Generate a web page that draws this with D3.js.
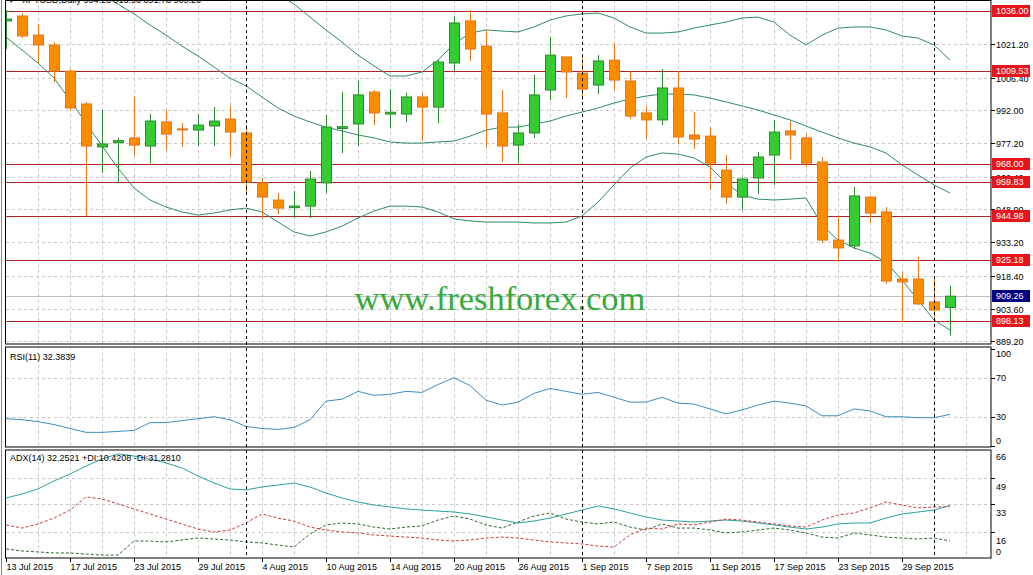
<!DOCTYPE html>
<meta charset="utf-8">
<style>
body{margin:0;background:#fff;}
text{font-family:"Liberation Sans",Arial,sans-serif;font-size:9px;}
</style>
<body>
<div id="chart"></div>
<script src="https://cdn.jsdelivr.net/npm/d3@7"></script>
<script>
// daily bars 13 Jul 2015 .. 2 Oct 2015
var opens  = [1031.6,1033.8,1025.3,1020.9,1009.3,994.7,975.6,977.5,979.6,976.0,986.7,983.6,983.1,984.9,988.0,981.8,959.6,952.0,948.6,949.3,959.6,983.8,985.8,1000.0,990.2,990.2,997.8,993.3,1012.9,1031.6,1020.4,990.7,976.4,981.8,1000.9,1015.6,1008.4,1003.1,1014.2,1004.9,990.7,987.6,1001.8,980.9,980.4,965.3,953.3,961.8,972.0,982.7,979.6,968.9,934.2,931.6,953.3,946.7,916.9,916.9,906.7,904.23];
var highs  = [1036.4,1035.1,1030.2,1022.2,1010.2,995.6,992.0,979.6,997.8,990.2,992.0,986.2,990.2,993.3,993.8,985.3,961.8,955.1,956.0,964.9,989.8,1000.0,1004.9,1000.9,1001.3,999.6,999.6,1014.2,1033.8,1036.4,1027.6,1000.9,985.8,1007.6,1024.4,1015.6,1015.6,1016.4,1021.8,1009.3,993.8,1010.2,1009.3,991.1,984.4,972.0,962.2,973.3,987.6,987.0,981.3,971.1,945.3,957.8,953.8,948.9,920.0,926.7,916.9,913.93];
var lows   = [1019.1,1024.0,1012.9,1004.4,991.6,944.9,964.0,959.6,971.6,968.4,974.2,975.6,976.0,976.0,971.1,955.1,943.6,945.8,944.0,944.0,955.1,972.9,976.0,985.3,984.0,986.7,978.2,986.2,1009.3,1013.8,975.1,968.9,968.4,979.6,996.4,997.3,996.4,999.1,1000.9,988.0,979.1,985.3,976.9,974.7,956.4,950.2,947.6,954.7,958.7,970.2,966.7,932.9,924.4,930.2,941.8,914.7,897.8,905.3,899.1,891.73];
var closes = [1032.4,1024.9,1020.9,1009.3,992.9,976.0,976.9,978.4,976.4,987.1,981.3,983.3,985.3,987.1,982.2,960.0,953.3,948.4,949.3,961.3,984.4,984.6,998.7,990.7,991.0,997.8,993.3,1013.3,1030.7,1019.1,990.2,976.0,981.8,998.7,1016.4,1008.9,1001.3,1013.8,1005.3,989.3,987.6,1001.8,980.0,979.1,968.4,953.3,961.3,971.1,982.2,980.9,968.4,934.2,930.7,953.8,946.2,916.0,915.6,905.8,903.1,909.26];

// bollinger bands
var bbUpper = [1119.6,1116.5,1113.3,1109.4,1109.4,1109.8,1110.2,1112.0,1112.1,1107.6,1101.7,1094.1,1086.7,1076.0,1064.8,1057.0,1048.9,1043.6,1039.1,1033.3,1027.6,1022.2,1016.4,1011.6,1007.1,1007.1,1008.9,1014.2,1021.3,1026.2,1027.6,1027.1,1026.7,1028.9,1032.0,1033.8,1034.7,1035.1,1032.9,1028.9,1026.2,1026.2,1026.7,1028.4,1029.8,1031.1,1032.9,1033.3,1031.1,1025.3,1020.9,1025.3,1028.4,1028.9,1028.9,1027.6,1024.9,1024.0,1020.9,1014.2];
var bbMiddle = [1072.0,1067.6,1063.1,1057.8,1052.9,1048.0,1043.1,1039.1,1034.7,1029.8,1025.3,1020.4,1016.0,1011.1,1006.2,1002.7,997.8,992.9,989.3,986.7,984.4,982.7,980.9,979.6,977.8,977.3,977.3,977.8,978.2,980.4,983.1,984.4,984.4,985.8,987.1,989.3,991.1,992.9,995.1,996.9,998.2,999.1,999.1,998.7,997.3,995.6,993.8,992.0,989.8,987.6,984.9,982.2,979.6,977.3,975.6,972.9,967.6,963.1,958.7,955.1];
var bbLower = [1024.4,1018.7,1012.9,1006.2,996.4,986.2,976.0,966.2,957.3,952.0,948.9,946.7,945.3,946.2,947.6,948.4,946.7,942.2,937.8,936.0,937.8,940.4,944.0,947.1,949.3,949.3,948.9,946.7,943.6,942.7,942.2,942.2,942.2,941.8,941.8,942.2,944.9,951.1,958.7,966.2,971.1,972.9,972.4,970.7,966.7,959.6,954.2,952.4,952.0,952.4,952.9,940.9,934.2,930.7,928.4,924.4,916.4,907.6,898.7,894.2];

var rsi = [28,27,25,22,18,14,14,15,16,24,24,26,28,30,27,20,18,17,19,27,46,48,56,52,53,56,55,63,70,62,47,42,45,54,59,56,53,55,50,45,45,50,44,43,38,33,37,42,46,44,41,31,31,38,36,30,30,29,29,32.38];

var adx     = [36.7,39.1,42.2,47.1,51.3,56.2,60.5,63.6,62.3,60.5,58.1,55.0,50.1,45.8,42.2,41.6,43.4,44.6,45.8,43.4,39.7,36.7,34.2,32.4,31.2,30.0,29.3,28.7,28.1,26.9,25.1,23.2,21.4,22.6,24.4,26.9,29.3,31.8,30.0,27.5,25.1,23.2,22.6,22.0,22.6,23.2,22.6,21.4,20.2,18.9,17.7,18.9,20.8,21.4,21.4,24.4,26.9,28.1,29.3,32.25];
var diPlus  = [5.5,4.3,3.7,3.1,3.1,2.4,1.8,1.8,10.4,10.4,9.8,11.0,12.2,11.6,11.0,9.8,9.2,7.9,6.7,14.7,20.2,21.4,20.8,18.9,17.7,18.9,19.6,23.2,25.7,23.8,20.2,18.3,22.0,25.7,27.5,23.8,22.0,20.8,22.0,18.9,17.1,20.8,18.3,18.3,17.1,15.3,15.9,17.1,18.3,17.1,15.3,12.8,12.2,15.3,14.1,12.8,12.2,11.6,12.2,10.42];
var diMinus = [20.2,18.3,20.8,24.4,29.3,37.3,36.1,33.0,30.0,26.9,23.8,20.8,17.7,15.9,17.1,21.4,26.9,24.4,22.6,18.9,17.1,15.9,15.3,14.1,13.4,12.8,12.2,11.0,10.4,11.0,12.2,12.8,12.2,11.0,9.8,9.2,8.6,7.3,6.7,14.1,18.3,17.7,20.8,20.2,22.0,23.8,23.2,22.0,20.8,19.6,18.9,23.2,26.3,27.5,30.6,34.2,32.4,30.6,31.2,31.28];

var dateLabels = ["13 Jul 2015","17 Jul 2015","23 Jul 2015","29 Jul 2015","4 Aug 2015","10 Aug 2015","14 Aug 2015","20 Aug 2015","26 Aug 2015","1 Sep 2015","7 Sep 2015","11 Sep 2015","17 Sep 2015","23 Sep 2015","29 Sep 2015"];
var priceTicks = [1021.20,1006.40,992.00,977.20,962.40,948.00,933.20,918.40,903.60,889.20];
var levels = [1036.00,1009.53,968.00,959.83,944.98,925.18,898.13];
var monthStarts = [15,36,58];   // 3 Aug, 1 Sep, 1 Oct
var rsiTicks = [100,70,30,0];
var adxTicks = [66,49,33,16,0];

var W = 1033, H = 575, left = 6, right = 991;
var mainP = {top:0, bottom:344}, rsiP = {top:346.5, bottom:447}, adxP = {top:449.5, bottom:558};

var svg = d3.select("#chart").append("svg").attr("width", W).attr("height", H);

var x = d3.scaleLinear().domain([0, 59]).range([6, 950]);
var y = d3.scaleLinear().domain([888.0, 1040.9]).range([344, 0]);
var yR = d3.scaleLinear().domain([0, 100]).range([446, 348.5]);
var yA = d3.scaleLinear().domain([0, 66]).range([558, 450]);

var defs = svg.append("defs");
[["cMain",mainP],["cRsi",rsiP],["cAdx",adxP]].forEach(function(c){
  defs.append("clipPath").attr("id", c[0]).append("rect")
    .attr("x", left).attr("y", c[1].top).attr("width", right-left).attr("height", c[1].bottom-c[1].top);
});

// grids
var grid = svg.append("g").attr("stroke", "#c8c8c8").attr("stroke-dasharray", "3,3");
[mainP, rsiP, adxP].forEach(function(p){
  d3.range(2, 62, 2).forEach(function(i){
    var gx = Math.round(x(i)) + 0.5;
    if (gx < right) grid.append("line").attr("x1", gx).attr("x2", gx).attr("y1", p.top).attr("y2", p.bottom);
  });
});
priceTicks.forEach(function(t){
  var gy = Math.round(y(t)) + 0.5;
  grid.append("line").attr("x1", left).attr("x2", right).attr("y1", gy).attr("y2", gy);
});
[70,30].forEach(function(t){
  var gy = Math.round(yR(t)) + 0.5;
  grid.append("line").attr("x1", left).attr("x2", right).attr("y1", gy).attr("y2", gy);
});
[49,33,16].forEach(function(t){
  var gy = Math.round(yA(t)) + 0.5;
  grid.append("line").attr("x1", left).attr("x2", right).attr("y1", gy).attr("y2", gy);
});

// main panel
var gm = svg.append("g").attr("clip-path", "url(#cMain)");

// bid line
gm.append("line").attr("x1", left).attr("x2", right)
  .attr("y1", Math.round(y(closes[59]))+0.5).attr("y2", Math.round(y(closes[59]))+0.5)
  .attr("stroke", "#c0c0c0");

gm.selectAll(".lvl").data(levels).enter().append("line")
  .attr("x1", left).attr("x2", right)
  .attr("y1", d => Math.round(y(d))+0.5).attr("y2", d => Math.round(y(d))+0.5)
  .attr("stroke", "#b22222").attr("stroke-width", 1);

svg.append("text").attr("x", 500).attr("y", 310).attr("text-anchor", "middle")
  .style("font-family", "'Liberation Serif','Times New Roman',serif").style("font-size", "34.5px")
  .attr("fill", "#36aa3a").text("www.freshforex.com");

var band = d3.line().x((d,i) => x(i)).y(d => y(d));
[bbUpper, bbMiddle, bbLower].forEach(function(b){
  gm.append("path").attr("d", band(b)).attr("fill", "none").attr("stroke", "#2e8b6a").attr("stroke-width", 1);
});

var candles = gm.selectAll(".c").data(d3.range(opens.length)).enter().append("g");
candles.append("line")
  .attr("x1", i => Math.round(x(i))+0.5).attr("x2", i => Math.round(x(i))+0.5)
  .attr("y1", i => y(highs[i])).attr("y2", i => y(lows[i]))
  .attr("stroke", i => closes[i] >= opens[i] ? "#2a8a2a" : "#e0781a");
candles.append("rect")
  .attr("x", i => Math.round(x(i)) - 4.5).attr("width", 10)
  .attr("y", i => y(Math.max(opens[i], closes[i])))
  .attr("height", i => Math.max(1, Math.abs(y(opens[i]) - y(closes[i]))))
  .attr("fill", i => closes[i] >= opens[i] ? "#32cd32" : "#ff8c00")
  .attr("stroke", i => closes[i] >= opens[i] ? "#2a8a2a" : "#e0781a");

// title
svg.append("text").attr("x", 9).attr("y", 3).attr("fill", "#000").text("\u25BE");
svg.append("text").attr("x", 22).attr("y", 3).attr("fill", "#000")
  .text("XPTUSD,Daily  904.23 913.93 891.73 909.26");

// RSI panel
var gr = svg.append("g").attr("clip-path", "url(#cRsi)");
gr.append("path").attr("d", d3.line().x((d,i) => x(i)).y(d => yR(d))(rsi))
  .attr("fill", "none").attr("stroke", "#3a8fc0");
svg.append("text").attr("x", 10).attr("y", 360).text("RSI(11) 32.3839");

// ADX panel
var ga = svg.append("g").attr("clip-path", "url(#cAdx)");
var aline = d3.line().x((d,i) => x(i)).y(d => yA(d));
ga.append("path").attr("d", aline(adx)).attr("fill", "none").attr("stroke", "#2aa2a2");
ga.append("path").attr("d", aline(diPlus)).attr("fill", "none").attr("stroke", "#2e6b2e").attr("stroke-dasharray", "3,2");
ga.append("path").attr("d", aline(diMinus)).attr("fill", "none").attr("stroke", "#d03a3a").attr("stroke-dasharray", "3,2");
svg.append("text").attr("x", 10).attr("y", 461).text("ADX(14) 32.2521 +DI:10.4208 -DI:31.2810");

// month separators
monthStarts.forEach(function(i){
  var sx = Math.round(x(i)) + 0.5;
  svg.append("line").attr("x1", sx).attr("x2", sx).attr("y1", 0).attr("y2", adxP.bottom)
    .attr("stroke", "#000").attr("stroke-dasharray", "3,3");
});

// frames
[mainP, rsiP, adxP].forEach(function(p){
  svg.append("rect").attr("x", left - 0.5).attr("y", p.top + 0.5)
    .attr("width", right - left + 0.5).attr("height", p.bottom - p.top - 0.5)
    .attr("fill", "none").attr("stroke", "#000");
});
svg.append("line").attr("x1", 1.5).attr("x2", 1.5).attr("y1", 0).attr("y2", H).attr("stroke", "#888");

// right price axis
var ax = svg.append("g");
priceTicks.forEach(function(t){
  var ty = Math.round(y(t)) + 0.5;
  ax.append("line").attr("x1", right).attr("x2", right + 4).attr("y1", ty).attr("y2", ty).attr("stroke", "#000");
  ax.append("text").attr("x", 996).attr("y", ty).attr("dy", "0.35em").attr("fill", "#000").text(d3.format(".2f")(t));
});
levels.forEach(function(l){
  var ly = Math.round(y(l));
  ax.append("rect").attr("x", 992).attr("y", ly - 6).attr("width", 38).attr("height", 12).attr("fill", "#e8141c");
  ax.append("text").attr("x", 996).attr("y", ly).attr("dy", "0.35em").attr("fill", "#fff").text(d3.format(".2f")(l));
});
var by = Math.round(y(closes[59]));
ax.append("rect").attr("x", 992).attr("y", by - 6).attr("width", 38).attr("height", 12).attr("fill", "#000080");
ax.append("text").attr("x", 996).attr("y", by).attr("dy", "0.35em").attr("fill", "#fff").text(d3.format(".2f")(closes[59]));

// RSI axis
rsiTicks.forEach(function(t){
  var ty = yR(t);
  var tyl = Math.min(Math.max(ty, rsiP.top + 7), rsiP.bottom - 6);
  ax.append("line").attr("x1", right).attr("x2", right + 4).attr("y1", Math.round(ty)+0.5).attr("y2", Math.round(ty)+0.5).attr("stroke", "#000");
  ax.append("text").attr("x", 996).attr("y", tyl).attr("dy", "0.35em").text(t);
});
// ADX axis
adxTicks.forEach(function(t){
  var ty = yA(t);
  var tyl = t === 66 ? adxP.top + 7 : (t === 0 ? adxP.bottom - 6 : ty + 9);
  if (t !== 66 && t !== 0) ax.append("line").attr("x1", right).attr("x2", right + 4).attr("y1", Math.round(ty)+0.5).attr("y2", Math.round(ty)+0.5).attr("stroke", "#000");
  ax.append("text").attr("x", 996).attr("y", tyl).attr("dy", "0.35em").text(t);
});

// date axis
dateLabels.forEach(function(d, k){
  var tx = Math.round(x(k * 4)) + 0.5;
  ax.append("line").attr("x1", tx).attr("x2", tx).attr("y1", adxP.bottom).attr("y2", adxP.bottom + 4).attr("stroke", "#000");
  ax.append("text").attr("x", tx).attr("y", 570).text(d);
});
</script>
</body>
